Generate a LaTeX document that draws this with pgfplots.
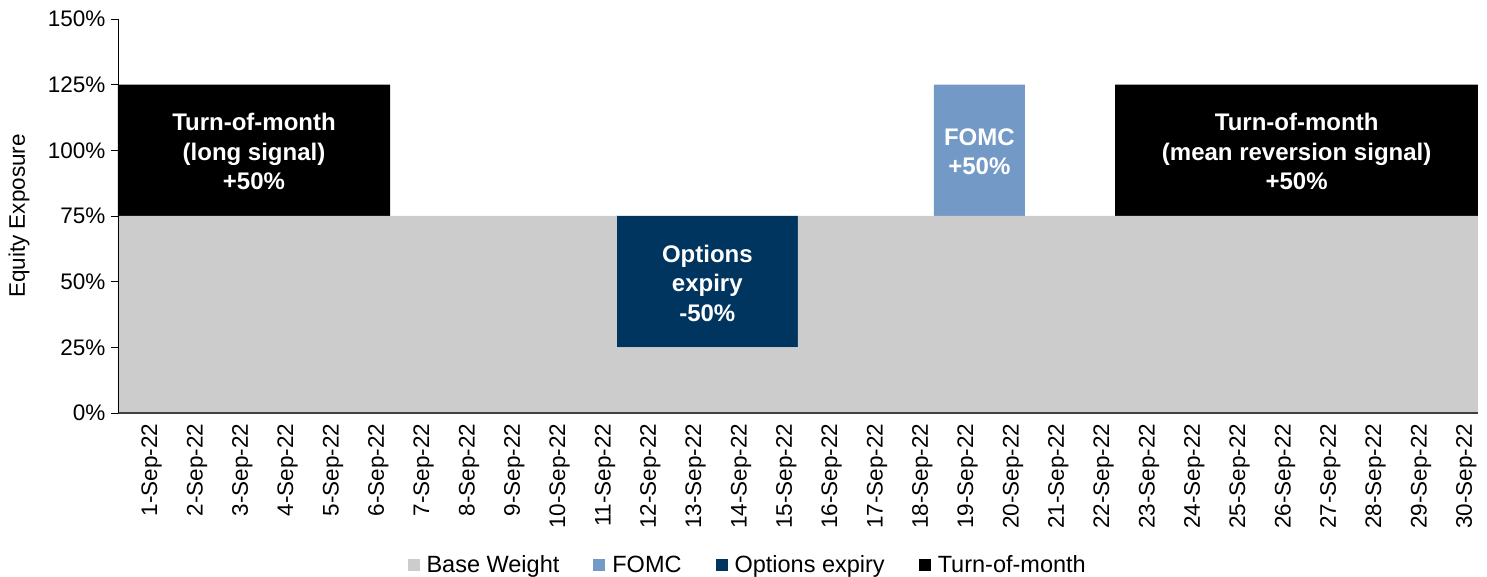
\documentclass[border=0pt]{standalone}
\usepackage{fontspec}
\setmainfont{Liberation Sans}
\usepackage{pgfplots}
\pgfplotsset{compat=1.18}
\definecolor{basegray}{HTML}{CCCCCC}
\definecolor{fomc}{HTML}{7399C6}
\definecolor{optexp}{HTML}{00355F}
\begin{document}
\begin{tikzpicture}[x=1pt,y=1pt]
\path[use as bounding box] (-118,-164) rectangle (1369,413);
\begin{axis}[
  at={(0pt,0pt)}, anchor=south west,
  scale only axis, width=1360pt, height=394pt,
  xmin=-0.5, xmax=29.5, ymin=0, ymax=150,
  ybar stacked, bar width=1.01,
  axis lines*=left, axis on top=true,
  x axis line style={draw=black!75, line width=1.2pt},
  y axis line style={draw=black, line width=0.9pt},
  ytick={0,25,50,75,100,125,150},
  yticklabel={\pgfmathprintnumber{\tick}\%},
  /pgf/number format/assume math mode=true,
  tick align=outside, major tick length=7pt,
  ytick style={draw=black, line width=0.9pt},
  xtick={0,...,29},
  xtick style={draw=none},
  xticklabels={1-Sep-22,2-Sep-22,3-Sep-22,4-Sep-22,5-Sep-22,6-Sep-22,7-Sep-22,8-Sep-22,9-Sep-22,10-Sep-22,11-Sep-22,12-Sep-22,13-Sep-22,14-Sep-22,15-Sep-22,16-Sep-22,17-Sep-22,18-Sep-22,19-Sep-22,20-Sep-22,21-Sep-22,22-Sep-22,23-Sep-22,24-Sep-22,25-Sep-22,26-Sep-22,27-Sep-22,28-Sep-22,29-Sep-22,30-Sep-22},
  x tick label style={rotate=90, anchor=east, yshift=-11pt, font=\fontsize{22.5}{27}\selectfont},
  y tick label style={font=\fontsize{22.5}{27}\selectfont, xshift=-2pt},
  ylabel={Equity Exposure},
  ylabel style={at={(axis description cs:-0.0728,0.5)}, anchor=center, font=\fontsize{22.5}{27}\selectfont},
  legend columns=4,
  legend style={at={(axis description cs:0.463,-0.386)}, anchor=center, draw=none, fill=none,
    font=\fontsize{23.5}{28}\selectfont,
    /tikz/every odd column/.append style={column sep=5pt},
    /tikz/every even column/.append style={column sep=32pt}},
  legend image code/.code={\fill[#1] (0pt,-5.5pt) rectangle (12pt,6.5pt);},
]
\addplot[fill=basegray, draw=none] coordinates {(0,75) (1,75) (2,75) (3,75) (4,75) (5,75) (6,75) (7,75) (8,75) (9,75) (10,75) (11,25) (12,25) (13,25) (14,25) (15,75) (16,75) (17,75) (18,75) (19,75) (20,75) (21,75) (22,75) (23,75) (24,75) (25,75) (26,75) (27,75) (28,75) (29,75)};
\addlegendentry{Base Weight}
\addplot[fill=fomc, draw=none] coordinates {(0,0) (1,0) (2,0) (3,0) (4,0) (5,0) (6,0) (7,0) (8,0) (9,0) (10,0) (11,0) (12,0) (13,0) (14,0) (15,0) (16,0) (17,0) (18,50) (19,50) (20,0) (21,0) (22,0) (23,0) (24,0) (25,0) (26,0) (27,0) (28,0) (29,0)};
\addlegendentry{FOMC}
\addplot[fill=optexp, draw=none] coordinates {(0,0) (1,0) (2,0) (3,0) (4,0) (5,0) (6,0) (7,0) (8,0) (9,0) (10,0) (11,50) (12,50) (13,50) (14,50) (15,0) (16,0) (17,0) (18,0) (19,0) (20,0) (21,0) (22,0) (23,0) (24,0) (25,0) (26,0) (27,0) (28,0) (29,0)};
\addlegendentry{Options expiry}
\addplot[fill=black, draw=none] coordinates {(0,50) (1,50) (2,50) (3,50) (4,50) (5,50) (6,0) (7,0) (8,0) (9,0) (10,0) (11,0) (12,0) (13,0) (14,0) (15,0) (16,0) (17,0) (18,0) (19,0) (20,0) (21,0) (22,50) (23,50) (24,50) (25,50) (26,50) (27,50) (28,50) (29,50)};
\addlegendentry{Turn-of-month}
\coordinate (tomL) at (axis cs:2.5,100);
\coordinate (opt) at (axis cs:12.5,50);
\coordinate (fomc) at (axis cs:18.5,100);
\coordinate (tomR) at (axis cs:25.5,100);
\end{axis}
\tikzset{lab/.style={text=white, font=\bfseries\fontsize{24}{29.5}\selectfont, align=center, yshift=-1.5pt}}
\node[lab] at (tomL) {Turn-of-month\\(long signal)\\+50\%};
\node[lab] at (opt) {Options\\expiry\\-50\%};
\node[lab] at (fomc) {FOMC\\+50\%};
\node[lab] at (tomR) {Turn-of-month\\(mean reversion signal)\\+50\%};
\end{tikzpicture}
\end{document}
